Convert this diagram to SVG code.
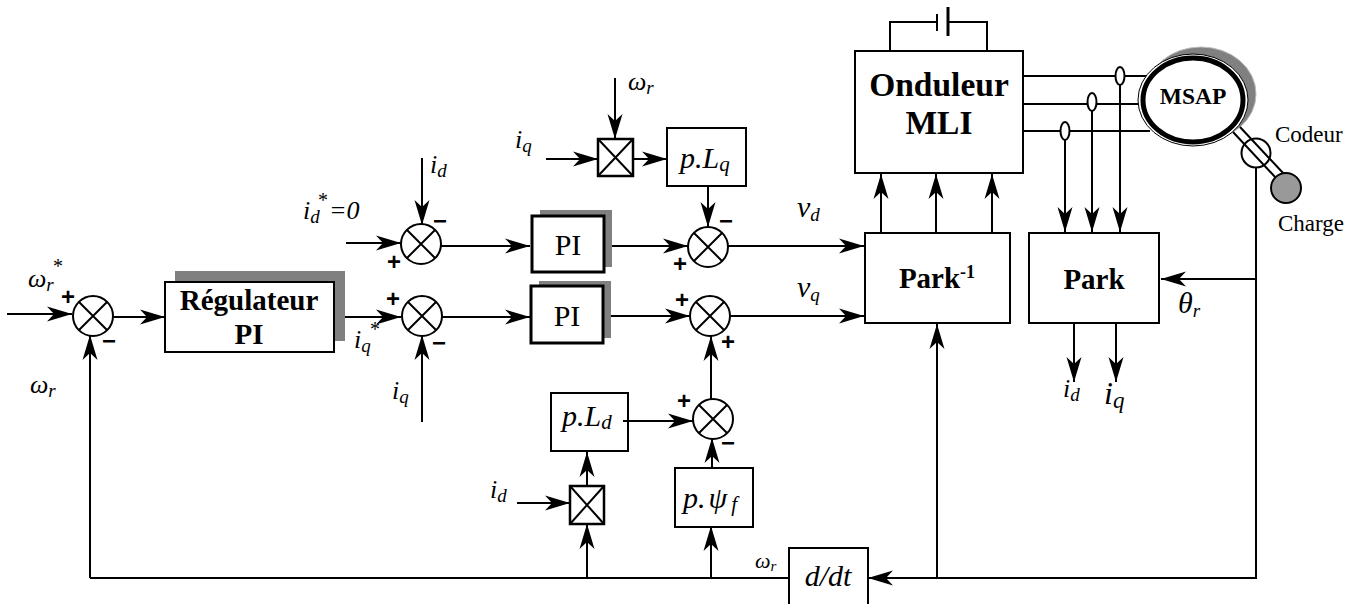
<svg xmlns="http://www.w3.org/2000/svg" width="1364" height="604" viewBox="0 0 1364 604">
<style>
text{font-family:"Liberation Serif","Times New Roman",serif;fill:#000}
.i{font-style:italic;font-size:26px}
.s{font-size:19px}
.b{font-weight:bold}
.sign{font-family:"Liberation Sans",Arial,sans-serif;font-weight:bold;font-size:24px;text-anchor:middle}
.box{fill:#fff;stroke:#000;stroke-width:2}
.thick{fill:#fff;stroke:#000;stroke-width:3}
.sh{fill:#808080}
.l{fill:none;stroke:#000;stroke-width:2}
.a{fill:none;stroke:#000;stroke-width:2;marker-end:url(#ah)}
.t{text-anchor:middle}
.f{font-size:30px}
.fs{font-size:21px}
.st{font-size:20px}
</style>
<defs>
<marker id="ah" markerUnits="userSpaceOnUse" markerWidth="26" markerHeight="20" refX="25" refY="10" orient="auto" overflow="visible">
<path d="M0 2.500 L25 10 L0 17.500 L7 10 Z" fill="#000"/>
</marker>
</defs>
<g id="regulateur">
<rect class="sh" x="175" y="271" width="170" height="70"/>
<rect class="box" x="165" y="282" width="169" height="70"/>
<text class="b t" x="249" y="310" font-size="29">Régulateur</text>
<text class="b t" x="249" y="344" font-size="29">PI</text>
</g>
<g id="pi1">
<rect class="sh" x="540" y="210" width="72" height="57"/>
<rect class="thick" x="532" y="216" width="72" height="56"/>
<text class="t" x="568" y="255" font-size="30">PI</text>
</g>
<g id="pi2">
<rect class="sh" x="539" y="281" width="72" height="57"/>
<rect class="thick" x="531" y="286" width="72" height="57"/>
<text class="t" x="567" y="326" font-size="30">PI</text>
</g>
<g id="plq"><rect class="box" x="667" y="128" width="79" height="58"/><text class="i f" x="680" y="168">p.L<tspan class="fs" dy="3">q</tspan></text></g>
<g id="pld"><rect class="box" x="551" y="393" width="77" height="58"/><text class="i f" x="562" y="426">p.L<tspan class="fs" dy="3">d</tspan></text></g>
<g id="ppsi"><rect class="box" x="675" y="468" width="78" height="59"/><text class="i f" x="683" y="508">p.<tspan dx="3">ψ</tspan><tspan class="fs" dx="4" dy="3">f</tspan></text></g>
<g id="ddt"><rect class="box" x="789" y="548" width="79" height="60"/><text class="i f t" x="828" y="586">d/dt</text></g>
<g id="onduleur"><rect class="box" x="855" y="51" width="168" height="122"/><text class="b t" x="939" y="96" font-size="33.500">Onduleur</text><text class="b t" x="939" y="134" font-size="33.500">MLI</text></g>
<g id="parkinv"><rect class="box" x="865" y="233" width="145" height="90"/><text class="b t" x="937" y="288" font-size="29">Park<tspan font-size="18" dy="-10">-1</tspan></text></g>
<g id="park"><rect class="box" x="1029" y="233" width="130" height="90"/><text class="b t" x="1094" y="289" font-size="29">Park</text></g>
<g id="connectors">
<path class="a" d="M7 314H72"/>
<path class="a" d="M113 317H165"/>
<path class="a" d="M345 317H401"/>
<path class="a" d="M346 243H401"/>
<path class="a" d="M441 246H530"/>
<path class="a" d="M441 317H530"/>
<path class="a" d="M612 246H688"/>
<path class="a" d="M611 316H690"/>
<path class="a" d="M728 246H864"/>
<path class="a" d="M730 316H864"/>
<path class="a" d="M422 158V225"/>
<path class="a" d="M422 422V335"/>
<path class="a" d="M90 578V335"/>
<path class="l" d="M90 578H789"/>
<path class="a" d="M615 78V139"/>
<path class="a" d="M546 159H598"/>
<path class="a" d="M633 159H667"/>
<path class="a" d="M708 186V227"/>
<path class="a" d="M711 399V336"/>
<path class="a" d="M623 421H693"/>
<path class="a" d="M712 468V438"/>
<path class="a" d="M587 486V452"/>
<path class="a" d="M587 578V524"/>
<path class="a" d="M711 578V526"/>
<path class="a" d="M517 503H570"/>
<path class="a" d="M881 233V174"/>
<path class="a" d="M936 233V174"/>
<path class="a" d="M992 233V174"/>
<path class="a" d="M937 578V324"/>
<path class="l" d="M1024 76H1148M1024 104H1140M1024 131H1150"/>
<path class="a" d="M1065 131V232"/>
<path class="a" d="M1092 104V232"/>
<path class="a" d="M1120 76V232"/>
<path class="l" d="M1256 167V578H937"/>
<path class="a" d="M962 578H868"/>
<path class="a" d="M1256 279H1161"/>
<path class="a" d="M1074 323V382"/>
<path class="a" d="M1116 323V382"/>
<path class="l" d="M890 51V22H937M948 22H987V51M937 14V31"/>
<path class="l" style="stroke-width:3" d="M948 7V36"/>
</g>
<g id="sum1"><circle class="box" cx="93" cy="316" r="20"/><path class="l" d="M79 302L107 330M107 302L79 330"/></g>
<g id="sum2"><circle class="box" cx="421" cy="244" r="20"/><path class="l" d="M407 230L435 258M435 230L407 258"/></g>
<g id="sum3"><circle class="box" cx="422" cy="316" r="20"/><path class="l" d="M408 302L436 330M436 302L408 330"/></g>
<g id="sum4"><circle class="box" cx="708" cy="247" r="20"/><path class="l" d="M694 233L722 261M722 233L694 261"/></g>
<g id="sum5"><circle class="box" cx="710" cy="316" r="20"/><path class="l" d="M696 302L724 330M724 302L696 330"/></g>
<g id="sum6"><circle class="box" cx="713" cy="419" r="20"/><path class="l" d="M699 405L727 433M727 405L699 433"/></g>
<g id="mul1"><rect class="thick" x="598" y="139" width="35" height="37" style="stroke-width:2.500"/><path class="l" d="M598 139L633 176M633 139L598 176"/></g>
<g id="mul2"><rect class="thick" x="570" y="486" width="34" height="38" style="stroke-width:2.500"/><path class="l" d="M570 486L604 524M604 486L570 524"/></g>
<g id="msap">
<ellipse cx="1201" cy="94" rx="55" ry="47" fill="#808080" stroke="#bbb" stroke-width="1"/>
<path d="M1233 132L1276 178M1240 127L1284 174" class="l"/>
<ellipse cx="1193" cy="100" rx="55" ry="46" fill="#fff" stroke="#000" stroke-width="1"/>
<ellipse cx="1193" cy="100" rx="50" ry="42" fill="#fff" stroke="#000" stroke-width="5"/>
<text class="b t" x="1193" y="104" font-size="23.500">MSAP</text>
</g>
<g id="codeur"><circle cx="1256" cy="153" r="14.500" fill="none" stroke="#000" stroke-width="2"/></g>
<g id="charge"><circle cx="1286" cy="188" r="15" fill="#999" stroke="#000" stroke-width="2"/></g>
<g id="sensors">
<ellipse cx="1120" cy="76" rx="4.500" ry="9" fill="#fff" stroke="#000" stroke-width="2"/>
<ellipse cx="1092" cy="102" rx="4.500" ry="9" fill="#fff" stroke="#000" stroke-width="2"/>
<ellipse cx="1065" cy="131" rx="4.500" ry="9" fill="#fff" stroke="#000" stroke-width="2"/>
</g>
<g id="labels">
<text class="i" x="28" y="287">ω<tspan class="s" dy="4">r</tspan></text><text class="st" x="53" y="273">*</text>
<text class="i" x="30" y="393">ω<tspan class="s" dy="4">r</tspan></text>
<text class="i" x="354" y="348">i<tspan class="s" dy="4">q</tspan></text><text class="st" x="370" y="336">*</text>
<text class="i" x="392" y="399">i<tspan class="s" dy="4">q</tspan></text>
<text class="i" x="430" y="173">i<tspan class="s" dy="4">d</tspan></text>
<text class="i" x="303" y="219">i<tspan class="s" dy="4">d</tspan></text><text class="st" x="318" y="207">*</text><text class="i" x="329" y="219">=0</text>
<text class="i" x="515" y="148">i<tspan class="s" dy="4">q</tspan></text>
<text class="i" x="628" y="90">ω<tspan class="s" dy="4">r</tspan></text>
<text class="i" x="490" y="498">i<tspan class="s" dy="4">d</tspan></text>
<text class="i" x="797" y="217" style="font-size:30px">v<tspan class="s" dy="4">d</tspan></text>
<text class="i" x="797" y="297" style="font-size:30px">v<tspan class="s" dy="4">q</tspan></text>
<text class="i" x="755" y="568" style="font-size:22px">ω<tspan dy="3" style="font-size:15px">r</tspan></text>
<text class="i" x="1178" y="313" style="font-size:30px">θ<tspan class="s" dy="4">r</tspan></text>
<text class="i" x="1063" y="397">i<tspan class="s" dy="4">d</tspan></text>
<text class="i" x="1104" y="404" style="font-size:32px">i<tspan dy="4" style="font-size:23px">q</tspan></text>
<text x="1275" y="142" font-size="23">Codeur</text>
<text x="1278" y="231" font-size="23">Charge</text>
<text class="sign" x="68" y="305">+</text>
<text class="sign" x="109" y="349">−</text>
<text class="sign" x="394" y="270">+</text>
<text class="sign" x="440" y="229">−</text>
<text class="sign" x="393" y="307">+</text>
<text class="sign" x="439" y="351">−</text>
<text class="sign" x="680" y="272">+</text>
<text class="sign" x="726" y="229">−</text>
<text class="sign" x="682" y="308">+</text>
<text class="sign" x="728" y="350">+</text>
<text class="sign" x="684" y="409">+</text>
<text class="sign" x="728" y="451">−</text>
</g>
</svg>
